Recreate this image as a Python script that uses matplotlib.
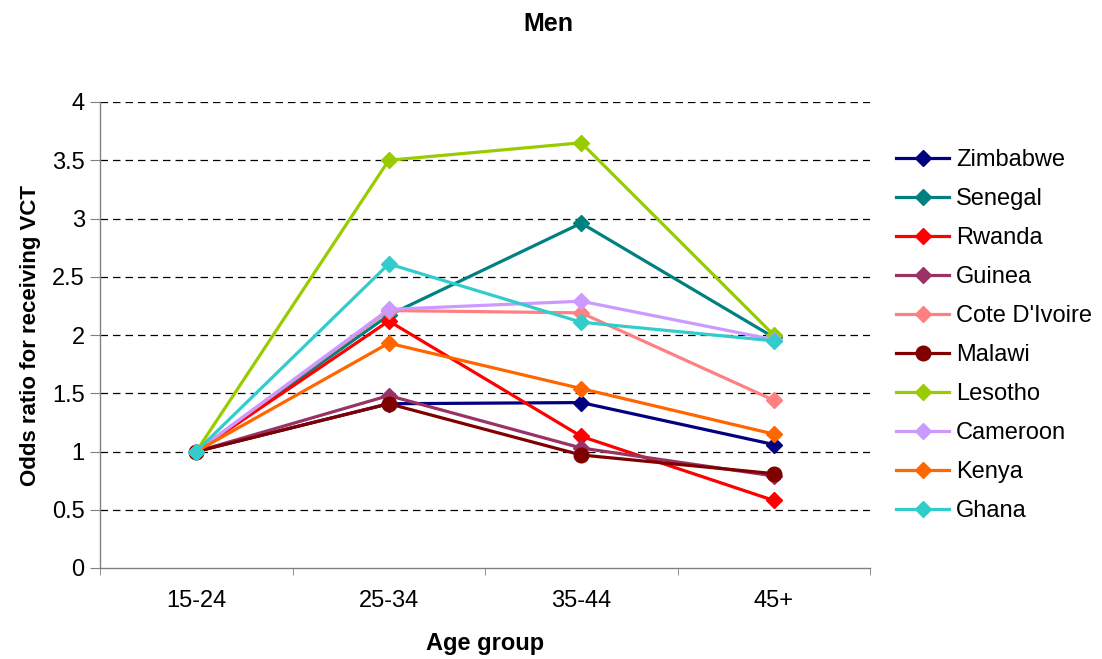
import numpy as np
import matplotlib.pyplot as plt

plt.rcParams['font.family'] = ['Liberation Sans', 'DejaVu Sans']

age_groups = ['15-24', '25-34', '35-44', '45+']

countries = ['Zimbabwe', 'Senegal', 'Rwanda', 'Guinea', "Cote D'Ivoire",
             'Malawi', 'Lesotho', 'Cameroon', 'Kenya', 'Ghana']

zimbabwe = [1, 1.41, 1.42, 1.06]
senegal = [1, 2.17, 2.96, 1.98]
rwanda = [1, 2.12, 1.13, 0.58]
guinea = [1, 1.48, 1.03, 0.79]
cote_divoire = [1, 2.21, 2.19, 1.44]
malawi = [1, 1.41, 0.97, 0.81]
lesotho = [1, 3.50, 3.65, 2.00]
cameroon = [1, 2.22, 2.29, 1.96]
kenya = [1, 1.93, 1.54, 1.15]
ghana = [1, 2.61, 2.11, 1.95]

series = [zimbabwe, senegal, rwanda, guinea, cote_divoire,
          malawi, lesotho, cameroon, kenya, ghana]
colors = ['#000080', '#008080', '#FF0000', '#993366', '#FF8080',
          '#800000', '#99CC00', '#CC99FF', '#FF6600', '#33CCCC']
markers = ['D', 'D', 'D', 'D', 'D', 'o', 'D', 'D', 'D', 'D']

fig = plt.figure(figsize=(11.02, 6.59), dpi=100)
ax = fig.add_axes([100 / 1102, 1 - 568 / 659, 770 / 1102, 466 / 659])

x = np.arange(len(age_groups))
for name, vals, c, m in zip(countries, series, colors, markers):
    ax.plot(x, vals, color=c, marker=m, lw=2.3,
            ms=10.5 if m == 'o' else 7.8, label=name, zorder=3)

ax.set_xlim(-0.5, 3.5)
ax.set_ylim(0, 4)
ax.set_yticks(np.arange(0, 4.01, 0.5))
ax.set_yticklabels(['0', '0.5', '1', '1.5', '2', '2.5', '3', '3.5', '4'])
ax.set_xticks(x)
ax.set_xticklabels(age_groups)
ax.set_xticks(np.arange(-0.5, 3.6, 1), minor=True)
ax.tick_params(axis='x', which='major', length=0, pad=16, labelsize=17)
ax.tick_params(axis='x', which='minor', length=5, color='#808080')
ax.tick_params(axis='y', length=7, color='#808080', labelsize=17, pad=4)

for yv in np.arange(0.5, 4.01, 0.5):
    ax.axhline(yv, color='black', lw=0.9, ls=(0, (6, 4)), zorder=1)

for s in ['top', 'right']:
    ax.spines[s].set_visible(False)
for s in ['left', 'bottom']:
    ax.spines[s].set_color('#808080')
    ax.spines[s].set_linewidth(1)

ax.set_xlabel('Age group', fontsize=17, fontweight='bold', labelpad=14)
ax.set_ylabel('Odds ratio for receiving VCT', fontsize=16, fontweight='bold', labelpad=8)
fig.text(548 / 1102, 1 - 24 / 659, 'Men', fontsize=18, fontweight='bold',
         ha='center', va='center')

ax.legend(loc='upper left', bbox_to_anchor=(896 / 1102, 1 - 149 / 659),
          bbox_transform=fig.transFigure, frameon=False, fontsize=17,
          handlelength=2.25, labelspacing=0.72, handletextpad=0.3,
          borderpad=0, borderaxespad=0)

fig.savefig('out.png', dpi=100)
